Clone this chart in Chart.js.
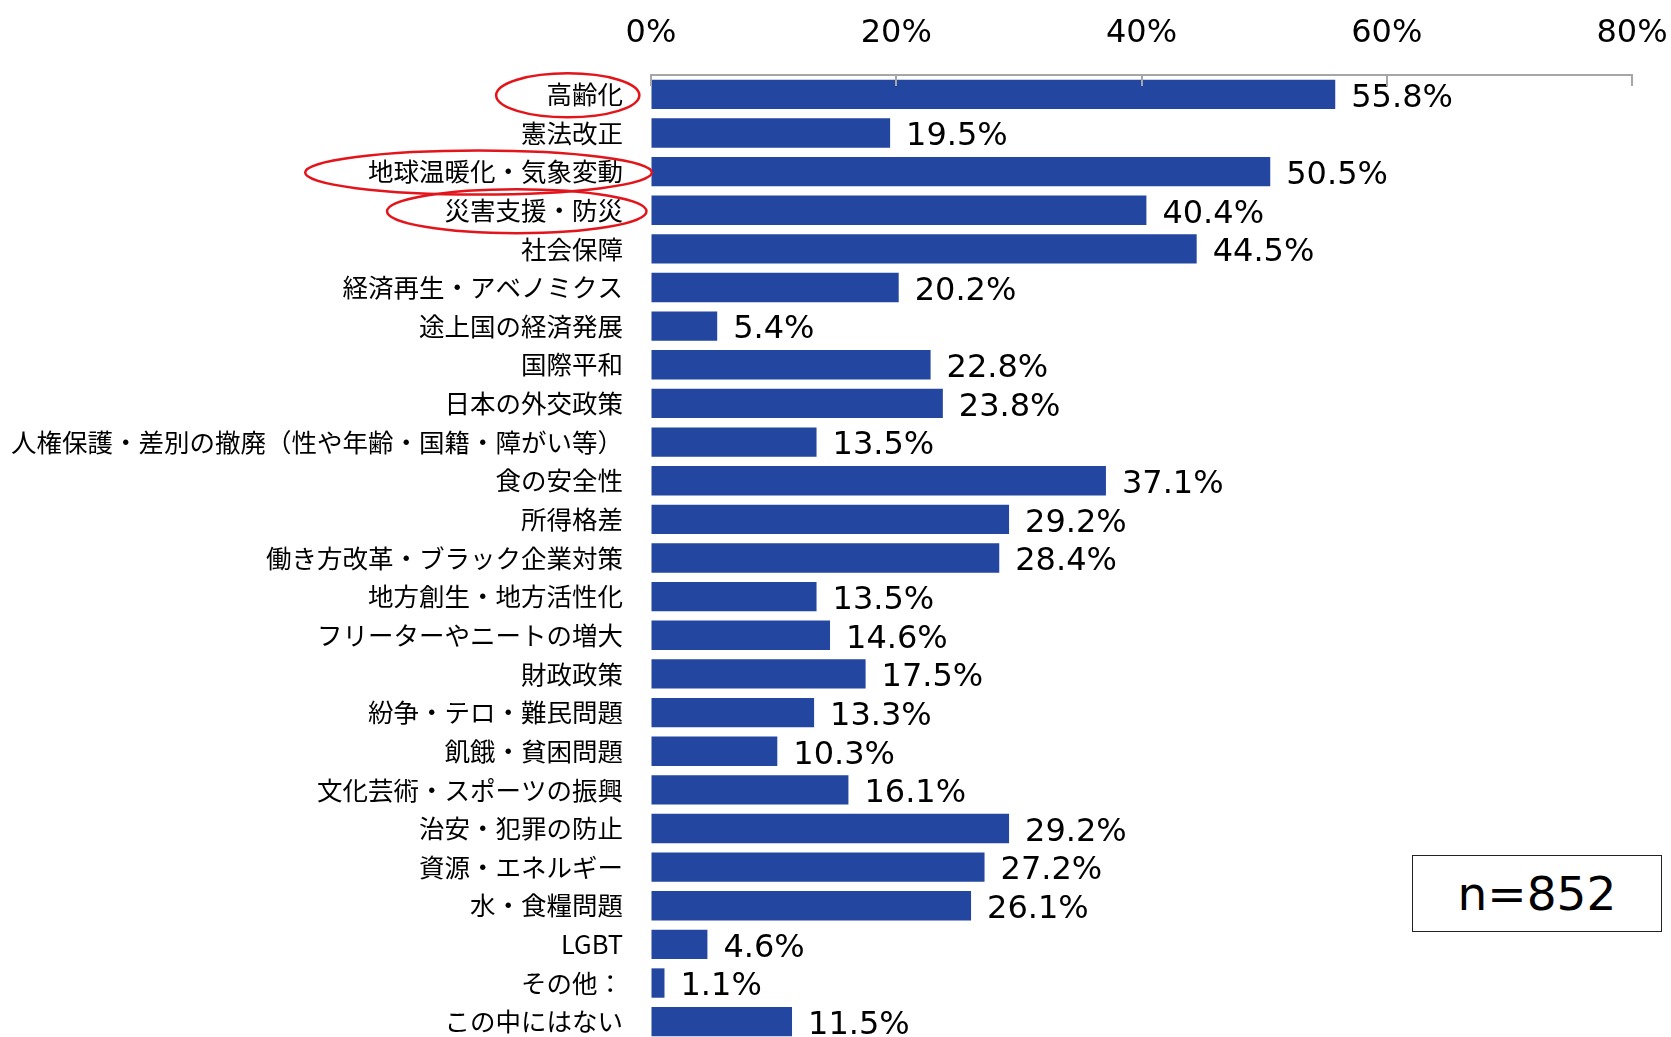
<!DOCTYPE html>
<html lang="ja">
<head>
<meta charset="utf-8">
<title>関心のある社会課題</title>
<script src="https://cdn.jsdelivr.net/npm/chart.js@4/dist/chart.umd.min.js"></script>
<style>
    html, body { margin: 0; padding: 0; background: #fff; overflow: hidden; }
    .wrap { position: relative; width: 1671px; height: 1037px; overflow: hidden; }
    canvas { display: block; }
    .n-box {
        position: absolute; left: 1412px; top: 855px; width: 248px; height: 75px;
        border: 1.5px solid #222; background: #fff;
        font: 47px "DejaVu Sans", sans-serif; color: #000;
        display: flex; align-items: center; justify-content: center;
    }
</style>
</head>
<body>
<div class="wrap">
    <canvas id="issueChart" width="1671" height="1041"></canvas>
    <div class="n-box">n=852</div>
</div>
<script>
var categories = [
    '高齢化', '憲法改正', '地球温暖化・気象変動', '災害支援・防災', '社会保障',
    '経済再生・アベノミクス', '途上国の経済発展', '国際平和', '日本の外交政策',
    '人権保護・差別の撤廃（性や年齢・国籍・障がい等）', '食の安全性', '所得格差',
    '働き方改革・ブラック企業対策', '地方創生・地方活性化', 'フリーターやニートの増大',
    '財政政策', '紛争・テロ・難民問題', '飢餓・貧困問題', '文化芸術・スポーツの振興',
    '治安・犯罪の防止', '資源・エネルギー', '水・食糧問題', 'LGBT', 'その他：', 'この中にはない'
];
var values = [
    55.8, 19.5, 50.5, 40.4, 44.5,
    20.2, 5.4, 22.8, 23.8,
    13.5, 37.1, 29.2,
    28.4, 13.5, 14.6,
    17.5, 13.3, 10.3, 16.1,
    29.2, 27.2, 26.1, 4.6, 1.1, 11.5
];
var xTicks = [0, 20, 40, 60, 80];
var circled = ['高齢化', '地球温暖化・気象変動', '災害支援・防災'];

var BAR_COLOR = '#2346a0';
var AXIS_COLOR = '#a6a6a6';
var LABEL_FONT = '25.5px "Noto Sans CJK JP", sans-serif';
var NUM_FONT = '32px "DejaVu Sans", sans-serif';
var LABEL_PAD = 28;

// value labels to the right of each bar
var valueLabels = {
    id: 'valueLabels',
    afterDatasetsDraw: function(chart) {
        var ctx = chart.ctx;
        var meta = chart.getDatasetMeta(0);
        ctx.save();
        ctx.font = NUM_FONT;
        ctx.fillStyle = '#000';
        ctx.textAlign = 'left';
        ctx.textBaseline = 'middle';
        meta.data.forEach(function(bar, i) {
            ctx.fillText(values[i].toFixed(1) + '%', bar.x + 16, bar.y + 4);
        });
        ctx.restore();
    }
};

// short tick marks hanging down from the top axis
var axisTicks = {
    id: 'axisTicks',
    afterDraw: function(chart) {
        var ctx = chart.ctx;
        var xs = chart.scales.x;
        var top = chart.chartArea.top;
        ctx.save();
        ctx.strokeStyle = AXIS_COLOR;
        ctx.lineWidth = 2;
        xTicks.forEach(function(v) {
            var px = Math.round(xs.getPixelForValue(v));
            ctx.beginPath();
            ctx.moveTo(px, top);
            ctx.lineTo(px, top + 11);
            ctx.stroke();
        });
        ctx.restore();
    }
};

// red ellipses around highlighted category labels
var labelCircles = {
    id: 'labelCircles',
    afterDraw: function(chart) {
        var ctx = chart.ctx;
        var ys = chart.scales.y;
        var right = chart.chartArea.left - LABEL_PAD;
        ctx.save();
        ctx.font = LABEL_FONT;
        ctx.strokeStyle = '#e4141b';
        ctx.lineWidth = 2.5;
        circled.forEach(function(name) {
            var idx = categories.indexOf(name);
            if (idx < 0) return;
            var w = ctx.measureText(name).width;
            var cy = ys.getPixelForValue(idx) + 1;
            var cx = right - w / 2 - 17;
            ctx.beginPath();
            ctx.ellipse(cx, cy, w * 0.57 + 28, 22, 0, 0, Math.PI * 2);
            ctx.stroke();
        });
        ctx.restore();
    }
};

var ctx = document.getElementById('issueChart');
new Chart(ctx.getContext('2d'), {
    type: 'bar',
    data: {
        labels: categories,
        datasets: [{
            data: values,
            backgroundColor: BAR_COLOR,
            borderWidth: 0,
            barPercentage: 0.76,
            categoryPercentage: 1.0
        }]
    },
    options: {
        indexAxis: 'y',
        responsive: false,
        animation: false,
        devicePixelRatio: 1,
        layout: { padding: { left: 0, right: 39, top: 0, bottom: 0 } },
        plugins: {
            legend: { display: false },
            tooltip: { enabled: false }
        },
        scales: {
            x: {
                position: 'top',
                min: 0,
                max: 80,
                afterBuildTicks: function(scale) {
                    scale.ticks = xTicks.map(function(v) { return { value: v }; });
                },
                afterFit: function(scale) {
                    scale.height = 75;
                    scale.paddingLeft = 0;
                    scale.paddingRight = 0;
                },
                ticks: {
                    color: '#000',
                    font: { family: 'DejaVu Sans', size: 32 },
                    padding: 22,
                    maxRotation: 0,
                    callback: function(v) { return v + '%'; }
                },
                grid: { display: true, drawOnChartArea: false, drawTicks: false },
                border: { display: true, color: AXIS_COLOR, width: 2 }
            },
            y: {
                afterFit: function(scale) {
                    scale.width = 651;
                    scale.paddingTop = 0;
                    scale.paddingBottom = 0;
                },
                ticks: {
                    color: '#000',
                    font: { family: 'Noto Sans CJK JP', size: 25.5 },
                    padding: LABEL_PAD,
                    autoSkip: false
                },
                grid: { display: false, drawTicks: false },
                border: { display: false }
            }
        }
    },
    plugins: [valueLabels, axisTicks, labelCircles]
});
</script>
</body>
</html>
